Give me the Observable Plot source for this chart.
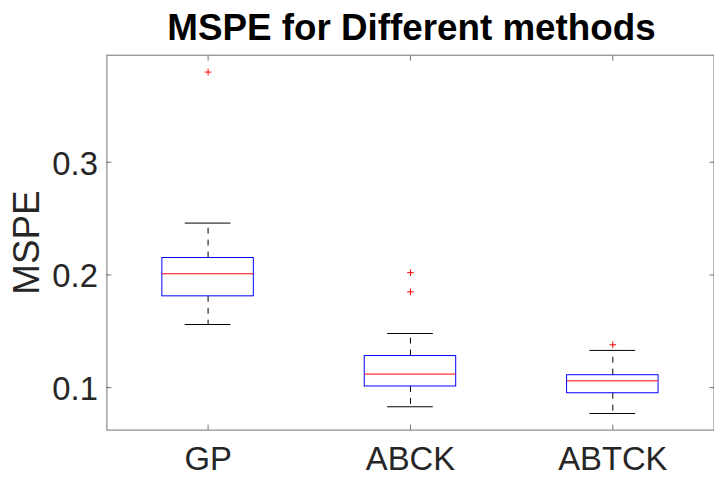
<!DOCTYPE html>
<html><head><meta charset="utf-8">
<script src="https://cdn.jsdelivr.net/npm/d3@7"></script>
<script src="https://cdn.jsdelivr.net/npm/@observablehq/plot@0.6"></script>
<style>html,body{margin:0;padding:0;overflow:hidden;background:#fff}</style>
</head><body><div id="chart"></div>
<script>
// Data
const methods = ["GP", "ABCK", "ABTCK"];
const lowerWhisker = [0.156, 0.083, 0.077];
const q1 = [0.181, 0.101, 0.095];
const median = [0.201, 0.112, 0.106];
const q3 = [0.215, 0.128, 0.111];
const upperWhisker = [0.246, 0.148, 0.133];
const outlierMethod = ["GP", "ABCK", "ABCK", "ABTCK"];
const outlierValue = [0.380, 0.202, 0.185, 0.138];
const yTicks = [0.1, 0.2, 0.3];
const titleText = "MSPE for Different methods";
const yLabel = "MSPE";

const rows = methods.map((m, i) => ({
  m, pos: i + 1, lo: lowerWhisker[i], q1: q1[i], med: median[i], q3: q3[i], hi: upperWhisker[i]
}));
const outliers = outlierMethod.map((m, i) => ({pos: methods.indexOf(m) + 1, v: outlierValue[i]}));
const xTicks = methods.map((m, i) => i + 1);

const font = "'Liberation Sans', Arial, Helvetica, sans-serif";
const boxHalf = 0.226, capHalf = 0.113;

const plot = Plot.plot({
  width: 718, height: 479,
  marginLeft: 107, marginRight: 0.5, marginTop: 55, marginBottom: 47,
  style: {fontFamily: font, background: "#fff", color: "#262626", overflow: "visible"},
  x: {type: "linear", domain: [0.5, 3.5]},
  y: {domain: [0.0623, 0.395]},
  marks: [
    Plot.frame({stroke: "#262626", strokeOpacity: 0.65}),
    Plot.axisY({anchor: "left", ticks: yTicks, tickFormat: () => "", tickSize: -5, label: null, strokeOpacity: 0.65}),
    Plot.axisY({anchor: "left", ticks: yTicks, tickFormat: d => d.toFixed(1), tickSize: 0, tickPadding: 9, fontSize: 33, label: null, dy: 2}),
    Plot.axisY({anchor: "right", ticks: yTicks, tickFormat: () => "", tickSize: -5, label: null, strokeOpacity: 0.65}),
    Plot.axisX({anchor: "top", ticks: xTicks, tickFormat: () => "", tickSize: -5, label: null, strokeOpacity: 0.65}),
    Plot.axisX({anchor: "bottom", ticks: xTicks, tickFormat: i => methods[i - 1], tickSize: -5, tickPadding: 22, fontSize: 33, label: null, strokeOpacity: 0.65}),
    Plot.ruleX(rows, {x: "pos", y1: "q3", y2: "hi", stroke: "black", strokeDasharray: "6,6"}),
    Plot.ruleX(rows, {x: "pos", y1: "q1", y2: "lo", stroke: "black", strokeDasharray: "6,6"}),
    Plot.ruleY(rows, {y: "hi", x1: d => d.pos - capHalf, x2: d => d.pos + capHalf, stroke: "black"}),
    Plot.ruleY(rows, {y: "lo", x1: d => d.pos - capHalf, x2: d => d.pos + capHalf, stroke: "black"}),
    Plot.rect(rows, {x1: d => d.pos - boxHalf, x2: d => d.pos + boxHalf, y1: "q1", y2: "q3", stroke: "blue", fill: "none"}),
    Plot.ruleY(rows, {y: "med", x1: d => d.pos - boxHalf, x2: d => d.pos + boxHalf, stroke: "red"}),
    Plot.dot(outliers, {x: "pos", y: "v", symbol: "plus", r: 2.3, stroke: "red", strokeWidth: 1}),
    Plot.text([titleText], {frameAnchor: "top", dx: 1, dy: -27.5, fontSize: 37, fontWeight: "bold", fill: "black", lineAnchor: "middle"}),
    Plot.text([yLabel], {frameAnchor: "left", textAnchor: "middle", dx: -80.3, rotate: -90, fontSize: 37, fill: "#262626", lineAnchor: "middle"})
  ]
});
document.getElementById("chart").appendChild(plot);
</script>
</body></html>
